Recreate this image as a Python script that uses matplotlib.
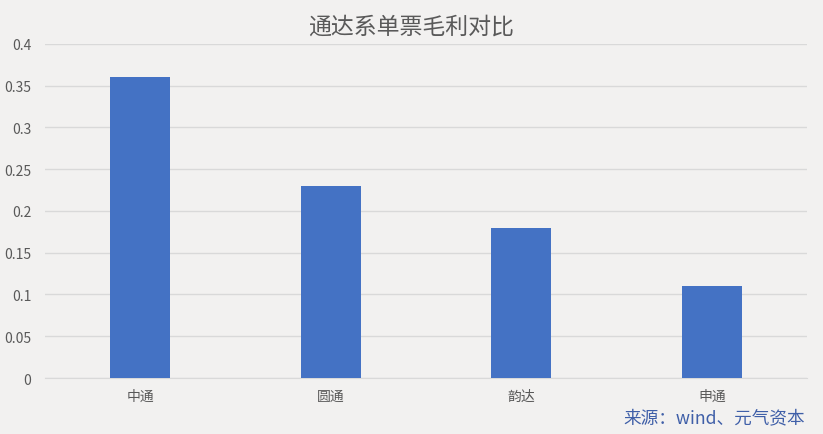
import matplotlib.pyplot as plt
import numpy as np

plt.rcParams['font.family'] = ['Noto Sans CJK SC', 'DejaVu Sans']

categories = ['中通', '圆通', '韵达', '申通']
values = [0.36, 0.23, 0.18, 0.11]
yticks = [0, 0.05, 0.1, 0.15, 0.2, 0.25, 0.3, 0.35, 0.4]
ytick_labels = ['0', '0.05', '0.1', '0.15', '0.2', '0.25', '0.3', '0.35', '0.4']

bg = '#f2f1f0'
fig = plt.figure(figsize=(8.23, 4.35), dpi=100, facecolor=bg)
ax = fig.add_axes([0.0547, 0.1287, 0.926, 0.768], facecolor=bg)

x = np.arange(len(categories))
ax.bar(x, values, width=0.315, color='#4472c4', zorder=3)

ax.set_xlim(-0.5, len(categories) - 0.5)
ax.set_ylim(0, 0.4)
ax.set_yticks(yticks)
ax.set_yticklabels(ytick_labels)
ax.set_xticks(x)
ax.set_xticklabels(categories)
ax.tick_params(axis='both', length=0, labelsize=10, colors='#595959')
ax.tick_params(axis='x', pad=8)
ax.tick_params(axis='y', pad=10)

ax.grid(axis='y', color='#d9d9d9', linewidth=1, zorder=0)
for s in ['top', 'right', 'left']:
    ax.spines[s].set_visible(False)
ax.spines['bottom'].set_color('#d9d9d9')

fig.text(0.5, 0.937, '通达系单票毛利对比', ha='center', va='center',
         fontsize=16.5, color='#595959')
fig.text(0.978, 0.039, '来源：wind、元气资本', ha='right', va='center',
         fontsize=12.7, color='#3f5fa8')

fig.savefig('out.png', dpi=100, facecolor=bg)
